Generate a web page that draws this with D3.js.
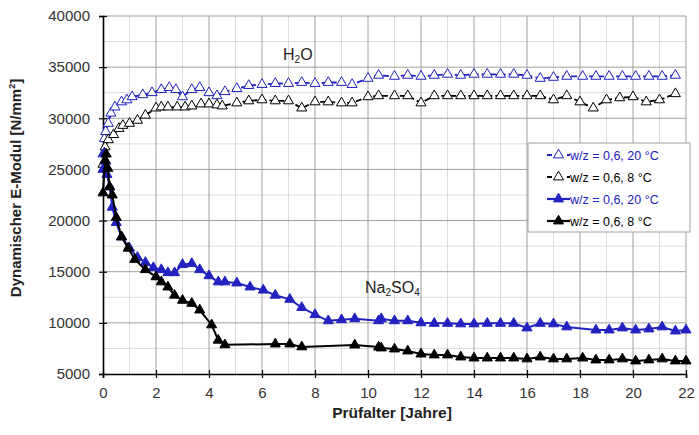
<!DOCTYPE html>
<html>
<head>
<title>E-Modul</title>
<script type="text/javascript" src="https://cdn.jsdelivr.net/npm/d3@7"></script>
<style>
body { margin: 0; background: #fff; }
text { font-family: Arial, "Liberation Sans", sans-serif; }
</style>
</head>
<body>
<svg width="699" height="435"></svg>
<script type="text/javascript">

// H2O, w/z = 0,6, 20 °C
var xH2O20 = [0, 0.05, 0.1, 0.2, 0.3, 0.45, 0.7, 0.9, 1.1, 1.5, 1.85, 2.2, 2.5, 2.75, 3.0, 3.35, 3.65, 4.0, 4.3, 4.6, 5.05, 5.5, 6.0, 6.5, 7.0, 7.5, 8.0, 8.5, 9.0, 9.4, 10.0, 10.4, 11.0, 11.5, 12.0, 12.5, 13.0, 13.5, 14.0, 14.5, 15.0, 15.5, 16.0, 16.5, 17.0, 17.5, 18.1, 18.6, 19.1, 19.6, 20.1, 20.6, 21.1, 21.6];
var yH2O20 = [26500, 28000, 28700, 29500, 30500, 31100, 31600, 31800, 32100, 32300, 32500, 32800, 33000, 32800, 32100, 32800, 33000, 32500, 32200, 32600, 32900, 33200, 33300, 33400, 33400, 33500, 33400, 33500, 33500, 33300, 33900, 34200, 34100, 34200, 34100, 34200, 34300, 34200, 34300, 34300, 34300, 34300, 34200, 33900, 34000, 34100, 34100, 34100, 34100, 34100, 34100, 34100, 34100, 34200];

// H2O, w/z = 0,6, 8 °C
var xH2O8 = [0, 0.08, 0.2, 0.4, 0.6, 0.75, 1.0, 1.3, 1.6, 2.0, 2.2, 2.45, 2.8, 3.1, 3.35, 3.7, 4.0, 4.3, 4.5, 5.05, 5.5, 6.0, 6.5, 7.0, 7.5, 8.0, 8.5, 9.0, 9.4, 10.0, 10.4, 11.0, 11.5, 12.0, 12.5, 13.0, 13.5, 14.0, 14.5, 15.0, 15.5, 16.0, 16.5, 17.0, 17.5, 18.0, 18.5, 19.0, 19.5, 20.0, 20.5, 21.0, 21.6];
var yH2O8 = [25500, 27200, 27900, 28400, 29000, 29300, 29500, 29800, 30300, 31000, 31100, 31100, 31100, 31100, 31200, 31400, 31400, 31300, 31200, 31500, 31700, 31800, 31700, 31700, 31000, 31600, 31600, 31500, 31500, 32100, 32200, 32200, 32200, 31500, 32200, 32200, 32200, 32200, 32200, 32200, 32200, 32200, 32200, 31800, 32200, 31600, 31000, 31800, 32000, 32100, 31600, 31800, 32400];

// Na2SO4, w/z = 0,6, 20 °C
var xNa20 = [0, 0.05, 0.1, 0.15, 0.25, 0.35, 0.5, 0.7, 1.0, 1.3, 1.6, 1.9, 2.2, 2.45, 2.7, 3.0, 3.35, 3.65, 4.0, 4.35, 4.6, 5.05, 5.55, 6.05, 6.5, 7.05, 7.5, 8.0, 8.5, 9.0, 9.5, 10.4, 10.5, 11.0, 11.5, 12.0, 12.5, 13.0, 13.5, 14.0, 14.5, 15.0, 15.5, 16.0, 16.5, 17.0, 17.5, 18.6, 19.1, 19.6, 20.1, 20.6, 21.1, 21.6, 22.0];
var yNa20 = [25000, 26600, 25800, 24500, 23300, 21300, 19800, 18400, 17300, 16400, 15900, 15400, 15200, 14900, 14900, 15700, 15800, 15200, 14600, 14000, 14000, 13900, 13500, 13200, 12700, 12300, 11500, 10800, 10200, 10300, 10400, 10200, 10400, 10200, 10200, 10000, 9950, 9950, 9900, 9900, 9950, 9950, 9950, 9500, 9950, 9900, 9600, 9300, 9300, 9500, 9300, 9400, 9600, 9200, 9300];

// Na2SO4, w/z = 0,6, 8 °C
var xNa8 = [0, 0.08, 0.12, 0.18, 0.25, 0.35, 0.5, 0.7, 0.95, 1.2, 1.6, 2.0, 2.2, 2.45, 2.7, 3.0, 3.35, 3.65, 4.1, 4.35, 4.6, 6.5, 7.05, 7.5, 9.5, 10.4, 10.5, 11.0, 11.5, 12.0, 12.5, 13.0, 13.5, 14.0, 14.5, 15.0, 15.5, 16.0, 16.5, 17.0, 17.5, 18.1, 18.6, 19.1, 19.6, 20.1, 20.6, 21.1, 21.6, 22.0];
var yNa8 = [22700, 25900, 26500, 25100, 23300, 22500, 20300, 18400, 17300, 16200, 15200, 14500, 14000, 13500, 12700, 12200, 11900, 11250, 9800, 8300, 7850, 7930, 7930, 7650, 7830, 7630, 7540, 7440, 7250, 6950, 6860, 6860, 6660, 6560, 6560, 6560, 6560, 6470, 6660, 6470, 6470, 6560, 6370, 6370, 6470, 6270, 6370, 6470, 6270, 6270];

var xTicks = [0, 2, 4, 6, 8, 10, 12, 14, 16, 18, 20, 22];
var yTicks = [5000, 10000, 15000, 20000, 25000, 30000, 35000, 40000];
var legendLabels = ["w/z = 0,6, 20 °C", "w/z = 0,6, 8 °C", "w/z = 0,6, 20 °C", "w/z = 0,6, 8 °C"];

var blue = "#2222c0";

var series = [
  { x: xH2O20, y: yH2O20, color: blue, hollow: true, label: legendLabels[0] },
  { x: xH2O8, y: yH2O8, color: "#000", hollow: true, label: legendLabels[1] },
  { x: xNa20, y: yNa20, color: blue, hollow: false, label: legendLabels[2] },
  { x: xNa8, y: yNa8, color: "#000", hollow: false, label: legendLabels[3] }
];

var pLeft = 103, pRight = 686, pTop = 16, pBottom = 374;

var sx = d3.scaleLinear().domain([0, 22]).range([pLeft, pRight]);
var sy = d3.scaleLinear().domain([5000, 40000]).range([pBottom, pTop]);

var svg = d3.select("svg");

// grid, minor then major
var grid = svg.append("g");
grid.selectAll(".vmin").data(d3.range(1, 23, 2)).enter().append("line")
  .attr("x1", d => sx(d)).attr("x2", d => sx(d)).attr("y1", pTop).attr("y2", pBottom)
  .attr("stroke", "#dcdcdc").attr("stroke-width", 1);
grid.selectAll(".hmin").data(d3.range(7500, 40000, 5000)).enter().append("line")
  .attr("x1", pLeft).attr("x2", pRight).attr("y1", d => sy(d)).attr("y2", d => sy(d))
  .attr("stroke", "#dcdcdc").attr("stroke-width", 1);
grid.selectAll(".vmaj").data(xTicks.slice(1)).enter().append("line")
  .attr("x1", d => sx(d)).attr("x2", d => sx(d)).attr("y1", pTop).attr("y2", pBottom)
  .attr("stroke", "#a0a0a0").attr("stroke-width", 1);
grid.selectAll(".hmaj").data(yTicks.slice(1)).enter().append("line")
  .attr("x1", pLeft).attr("x2", pRight).attr("y1", d => sy(d)).attr("y2", d => sy(d))
  .attr("stroke", "#a0a0a0").attr("stroke-width", 1);

// axes
var xAxis = svg.append("g").attr("transform", "translate(0," + pBottom + ")")
  .call(d3.axisBottom(sx).tickValues(xTicks).tickSize(4).tickPadding(9).tickFormat(d3.format("d")));
var yAxis = svg.append("g").attr("transform", "translate(" + pLeft + ",0)")
  .call(d3.axisLeft(sy).tickValues(yTicks).tickSize(4).tickPadding(9).tickFormat(d3.format("d")));

xAxis.selectAll(".tick line").attr("y1", -4).attr("y2", 4);
yAxis.selectAll(".tick line").attr("x1", -4).attr("x2", 4);
[xAxis, yAxis].forEach(function(a) {
  a.select(".domain").attr("stroke", "#000").attr("stroke-width", 1.6);
  a.selectAll(".tick line").attr("stroke", "#000").attr("stroke-width", 1.2);
  a.selectAll("text").attr("font-size", 15).attr("fill", "#333")
    .style("font-family", "Arial, 'Liberation Sans', sans-serif");
});

// series
var tri = d3.symbol().type(d3.symbolTriangle).size(44);
var line = d3.line().x(d => sx(d[0])).y(d => sy(d[1]));

series.forEach(function(s) {
  var pts = s.x.map(function(v, k) { return [v, s.y[k]]; });
  svg.append("path").datum(pts)
    .attr("d", line)
    .attr("fill", "none")
    .attr("stroke", s.color)
    .attr("stroke-width", s.hollow ? 1.8 : 2)
    .attr("stroke-dasharray", s.hollow ? "6,3" : null);
  svg.append("g").selectAll("path").data(pts).enter().append("path")
    .attr("d", tri)
    .attr("transform", d => "translate(" + sx(d[0]) + "," + sy(d[1]) + ")")
    .attr("fill", s.hollow ? "#fff" : s.color)
    .attr("stroke", s.color)
    .attr("stroke-width", 1);
});

// legend
var lg = svg.append("g").attr("transform", "translate(528,143)");
lg.append("rect").attr("width", 162).attr("height", 89)
  .attr("fill", "#fff").attr("stroke", "#a0a0a0").attr("stroke-width", 1);
series.forEach(function(s, k) {
  var yy = 12 + k * 22;
  var row = lg.append("g").attr("transform", "translate(0," + yy + ")");
  row.append("line").attr("x1", 19).attr("x2", 42).attr("y1", 0).attr("y2", 0)
    .attr("stroke", s.color).attr("stroke-width", s.hollow ? 1.8 : 2.2)
    .attr("stroke-dasharray", s.hollow ? "5,5" : null);
  row.append("path").attr("d", tri).attr("transform", "translate(30.5,0)")
    .attr("fill", s.hollow ? "#fff" : s.color).attr("stroke", s.color).attr("stroke-width", 1);
  row.append("text").attr("x", 42).attr("y", 4.5).attr("font-size", 12.5)
    .attr("fill", s.color === blue ? blue : "#000").text(s.label);
});

// annotations
var h2o = svg.append("text").attr("x", 283).attr("y", 60).attr("font-size", 16).attr("fill", "#222");
h2o.append("tspan").text("H");
h2o.append("tspan").attr("font-size", 10).attr("dy", 3).text("2");
h2o.append("tspan").attr("dy", -3).text("O");

var na = svg.append("text").attr("x", 365).attr("y", 293).attr("font-size", 16).attr("fill", "#222");
na.append("tspan").text("Na");
na.append("tspan").attr("font-size", 10).attr("dy", 3).text("2");
na.append("tspan").attr("dy", -3).text("SO");
na.append("tspan").attr("font-size", 10).attr("dy", 3).text("4");

// axis titles
svg.append("text").attr("x", 392).attr("y", 418).attr("text-anchor", "middle")
  .attr("font-size", 15.5).attr("font-weight", "bold").attr("fill", "#222")
  .text("Prüfalter [Jahre]");

var yt = svg.append("text").attr("transform", "translate(21,188) rotate(-90)")
  .attr("text-anchor", "middle").attr("font-size", 15).attr("font-weight", "bold").attr("fill", "#222");
yt.append("tspan").text("Dynamischer E-Modul [N/mm");
yt.append("tspan").attr("font-size", 9).attr("dy", -6).text("2");
yt.append("tspan").attr("dy", 6).text("]");

</script>
</body>
</html>
